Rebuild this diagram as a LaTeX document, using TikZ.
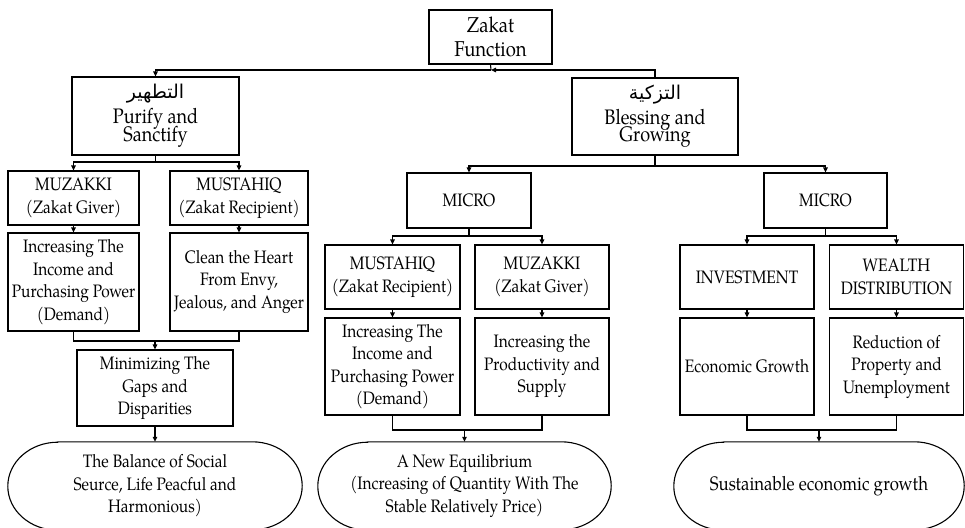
\documentclass[tikz,border=0pt]{standalone}
\usepackage{fontspec}
\setmainfont{TeX Gyre Pagella}[FakeStretch=0.86]
\newfontfamily\arabicfont[Script=Arabic]{DejaVu Sans}
\TeXXeTstate=1
\usetikzlibrary{arrows.meta}
\begin{document}
\begin{tikzpicture}[x=1pt,y=-1pt,
  every node/.style={font=\fontsize{18}{22.5}\selectfont},
  ln/.style={line width=1.1pt},
  arr/.style={ln,-{Triangle[length=5pt,width=4.5pt]}},
  box/.style 2 args={draw,ln,align=center,inner sep=0pt,minimum width=#1,minimum height=#2},
  term/.style 2 args={align=center,inner sep=0pt,minimum width=#1,minimum height=#2},
  twoline/.style={font=\fontsize{21}{21}\selectfont}]
\useasboundingbox (0,0) rectangle (965,527);

% nodes
\node[box={123pt}{54pt},font=\fontsize{21.5}{23.5}\selectfont] (zakat) at (490.5,37) {Zakat\\Function};
\node[box={167pt}{78pt},twoline] (purify) at (155.5,116)
  {{\arabicfont\fontsize{19}{21}\selectfont\beginR التطهير\endR}\\[4pt]Purify and\\[-4pt]Sanctify};
\node[box={166pt}{77pt},twoline] (bless) at (655,116.5)
  {{\arabicfont\fontsize{19}{21}\selectfont\beginR التزكية\endR}\\[4pt]Blessing and\\[-4pt]Growing};

\node[box={131pt}{54pt}] (muz1) at (73.5,198) {MUZAKKI\\(Zakat Giver)};
\node[box={138pt}{54pt}] (mus1) at (239,198) {MUSTAHIQ\\(Zakat Recipient)};
\node[box={131pt}{98pt}] (inc1) at (73.5,282) {Increasing The\\Income and\\Purchasing Power\\(Demand)};
\node[box={138pt}{98pt}] (clean) at (239,282) {Clean the Heart\\From Envy,\\Jealous, and Anger};
\node[box={156pt}{76pt}] (min) at (155,388) {Minimizing The\\Gaps and\\Disparities};
\node[term={294pt}{88pt}] (ell1) at (155,486) {The Balance of Social\\Seurce, Life Peacful and\\Harmonious)};

\node[box={124pt}{55pt}] (micro1) at (469,200.5) {MICRO};
\node[box={123pt}{55pt}] (micro2) at (825.5,200.5) {MICRO};

\node[box={135pt}{64pt}] (mus2) at (392.5,277) {MUSTAHIQ\\(Zakat Recipient)};
\node[box={134pt}{64pt}] (muz2) at (542,277) {MUZAKKI\\(Zakat Giver)};
\node[box={135pt}{97pt}] (inc2) at (392.5,366.5) {Increasing The\\Income and\\Purchasing Power\\(Demand)};
\node[box={134pt}{97pt}] (prod) at (542,366.5) {Increasing the\\Productivity and\\Supply};
\node[term={293pt}{88pt}] (ell2) at (464.5,486) {A New Equilibrium\\(Increasing of Quantity With The\\Stable Relatively Price)};

\node[box={134pt}{64pt}] (inv) at (747,277) {INVESTMENT};
\node[box={134pt}{64pt}] (wealth) at (896.5,277) {WEALTH\\DISTRIBUTION};
\node[box={134pt}{97pt}] (econ) at (747,366.5) {Economic Growth};
\node[box={134pt}{97pt}] (red) at (896.5,366.5) {Reduction of\\Property and\\Unemployment};
\node[term={290pt}{88pt},font=\fontsize{19.5}{22.5}\selectfont] (ell3) at (819,486) {Sustainable economic growth};

% terminator outlines
\foreach \n in {ell1,ell2,ell3}{
  \draw[ln] ([xshift=50pt]\n.north west) -- ([xshift=-50pt]\n.north east)
    arc[start angle=90,end angle=-90,x radius=50pt,y radius=44pt]
    -- ([xshift=50pt]\n.south west)
    arc[start angle=270,end angle=90,x radius=50pt,y radius=44pt] -- cycle;
}

% connectors
\coordinate (zk) at (491,70);
\draw[ln] (zakat.south) -- (zk);
\draw[arr] (bless.north) |- (zk);
\draw[arr] (zk) -| (purify.north);

\coordinate (pb) at (155.5,162);
\draw[ln] (purify.south) -- (pb);
\draw[arr] (pb) -| (muz1.north);
\draw[arr] (pb) -| (mus1.north);
\draw[arr] (muz1.south) -- (inc1.north);
\draw[arr] (mus1.south) -- (clean.north);
\coordinate (m1) at (155,341);
\draw[ln] (inc1.south) |- (m1);
\draw[ln] (clean.south) |- (m1);
\draw[arr] (m1) -- (min.north);
\draw[arr] (min.south) -- (ell1.north);

\coordinate (bb) at (655,166);
\draw[ln] (bless.south) -- (bb);
\draw[arr] (bb) -| (micro1.north);
\draw[arr] (bb) -| (micro2.north);

\coordinate (c1) at (469,236);
\draw[ln] (micro1.south) -- (c1);
\draw[arr] (c1) -| (mus2.north);
\draw[arr] (c1) -| (muz2.north);
\draw[arr] (mus2.south) -- (inc2.north);
\draw[arr] (muz2.south) -- (prod.north);
\coordinate (m2) at (464.5,430);
\draw[ln] (inc2.south) |- (m2);
\draw[ln] (prod.south) |- (m2);
\draw[arr] (m2) -- (ell2.north);

\coordinate (c2) at (825.5,236);
\draw[ln] (micro2.south) -- (c2);
\draw[arr] (c2) -| (inv.north);
\draw[arr] (c2) -| (wealth.north);
\draw[arr] (inv.south) -- (econ.north);
\draw[arr] (wealth.south) -- (red.north);
\coordinate (m3) at (819,430);
\draw[ln] (econ.south) |- (m3);
\draw[ln] (red.south) |- (m3);
\draw[arr] (m3) -- (ell3.north);
\end{tikzpicture}
\end{document}
